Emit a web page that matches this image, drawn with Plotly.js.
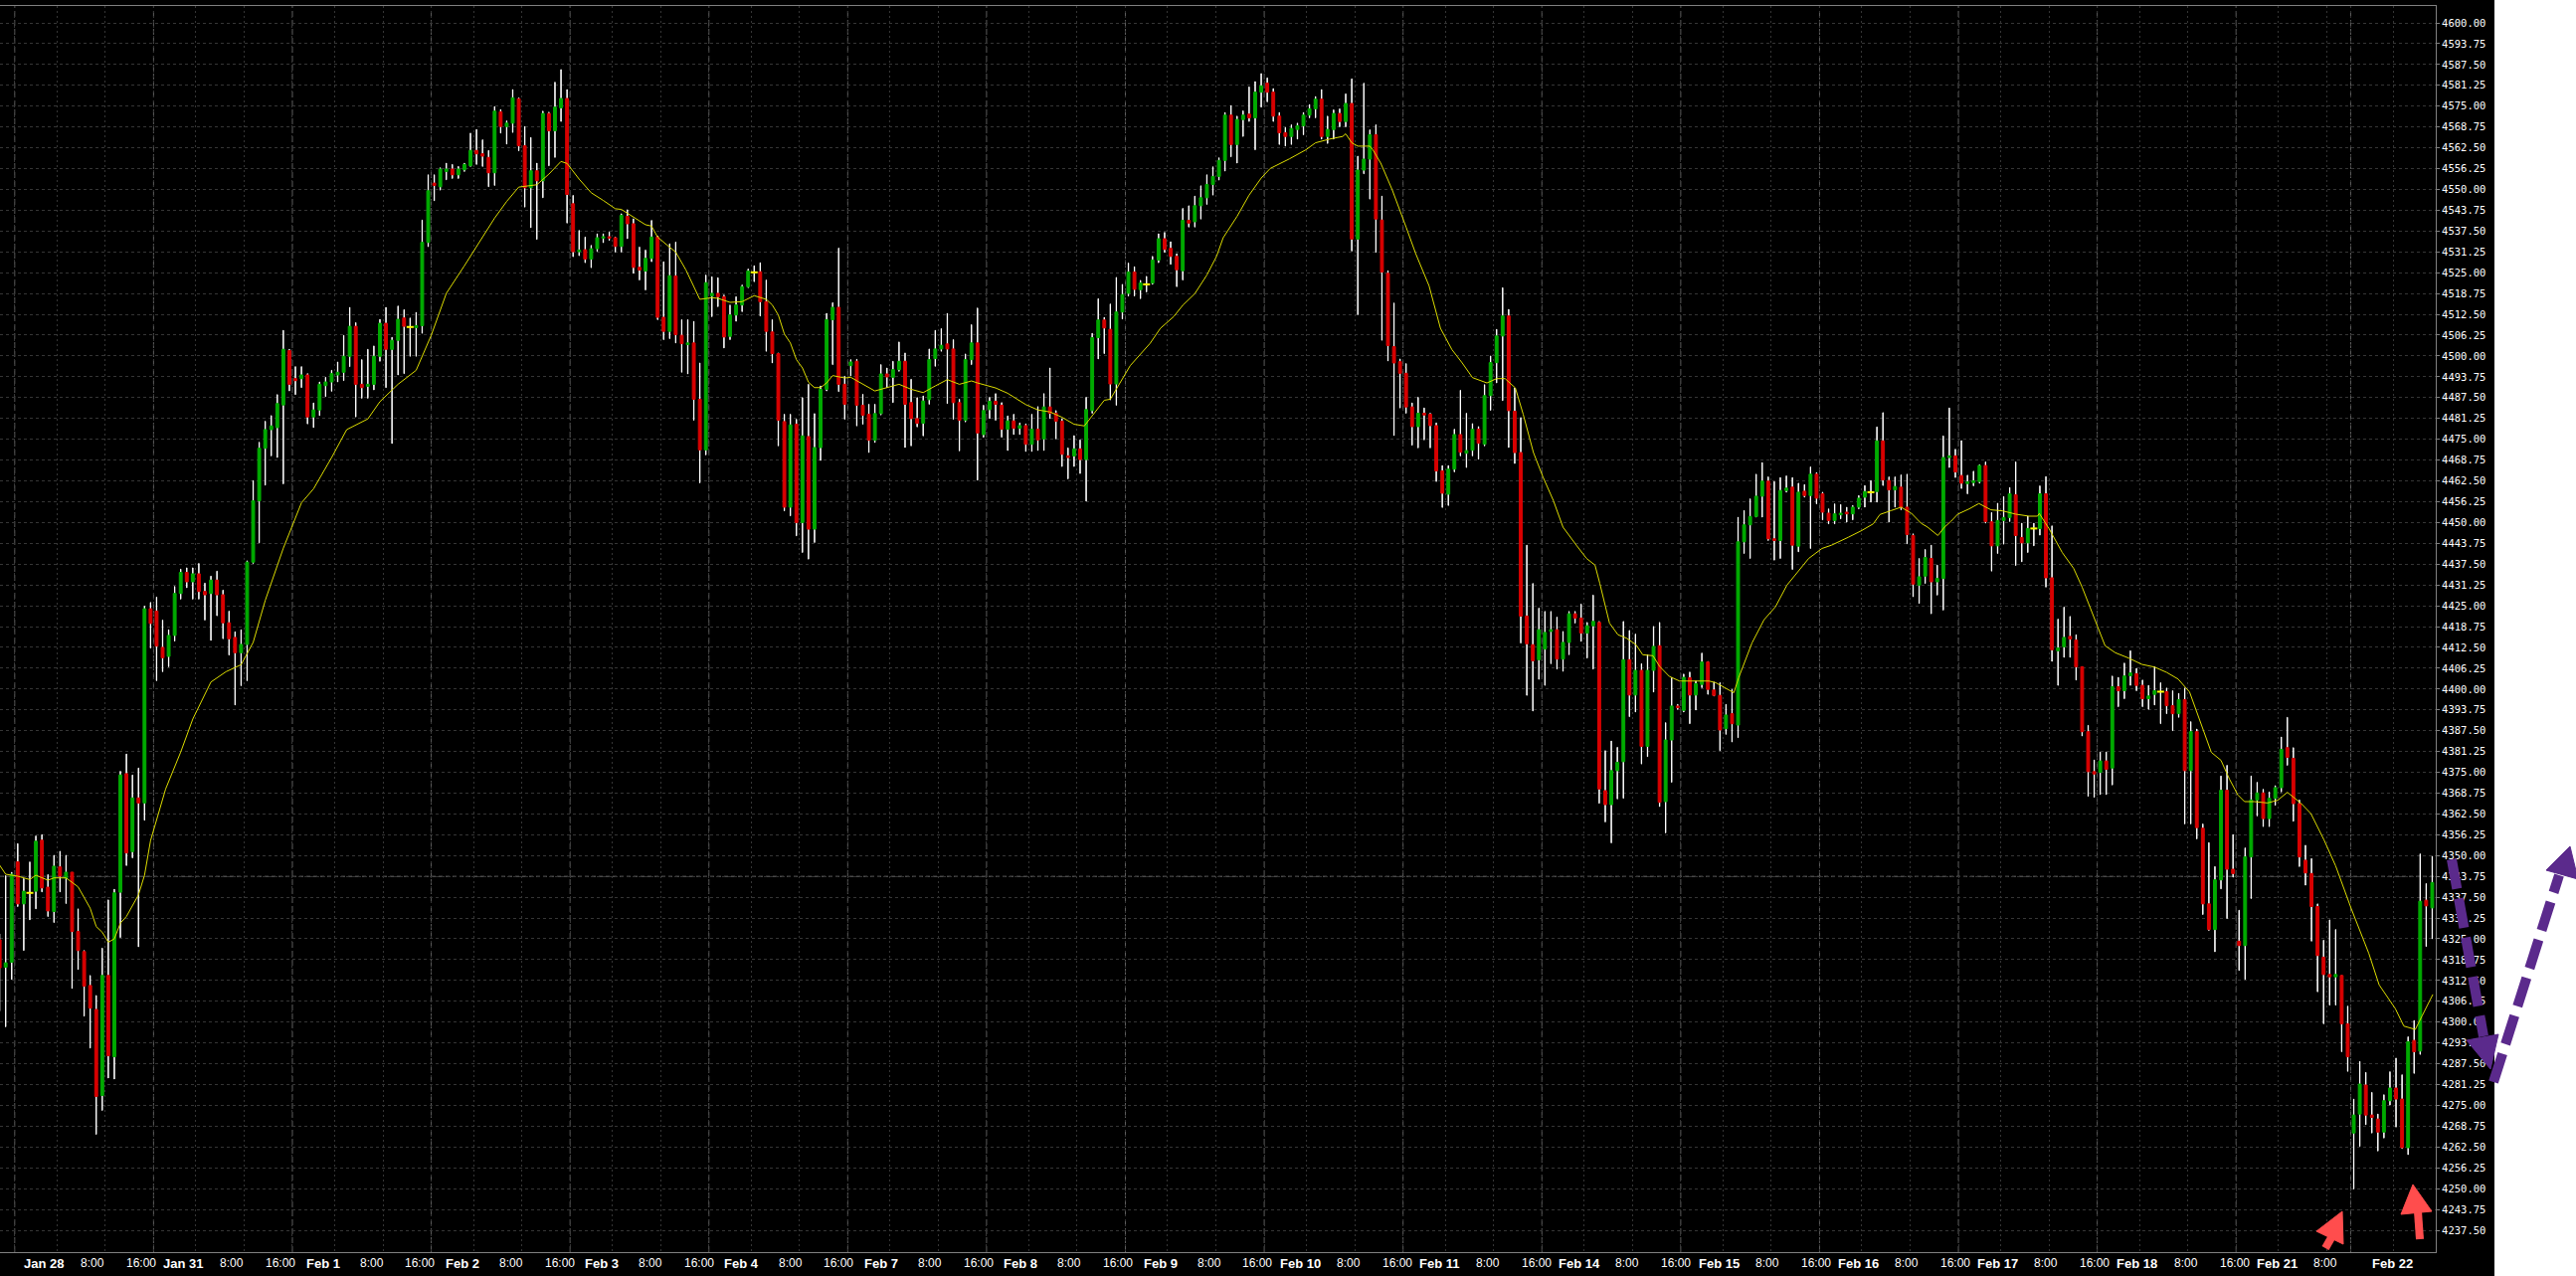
<!DOCTYPE html>
<html><head><meta charset="utf-8">
<script src="https://cdn.plot.ly/plotly-3.0.1.min.js"></script>
<style>
html,body{margin:0;padding:0;}
body{width:2590px;height:1283px;overflow:hidden;background:linear-gradient(to right,#000 0px,#000 2508px,#fff 2508px,#fff 2590px);}
#chart{width:2590px;height:1283px;}
</style></head><body><div id="chart"></div>
<script>
// ---- hourly OHLC, candle index 0..403 ----
const openP = [
4324.7,4316.5,4318.0,4348.1,4335.5,4338.8,4339.3,4354.6,4340.5,4333.2,
4346.6,4343.2,4345.0,4327.2,4321.2,4311.0,4303.8,4278.0,4314.0,4289.6,
4339.0,4374.6,4351.2,4367.3,4365.8,4424.1,4423.4,4412.5,4409.8,4416.1,
4428.7,4435.0,4432.2,4434.6,4429.3,4428.7,4432.7,4428.3,4419.9,4415.5,
4410.9,4413.4,4438.1,4456.5,4472.3,4477.9,4478.5,4485.3,4501.6,4493.2,
4493.2,4494.3,4481.7,4483.8,4491.1,4492.2,4494.3,4495.1,4499.9,4508.9,
4491.5,4490.9,4491.5,4499.9,4509.8,4502.0,4504.7,4511.4,4508.7,4508.5,
4509.1,4534.1,4551.9,4550.8,4555.4,4556.1,4554.4,4555.9,4557.1,4561.7,
4560.7,4559.6,4555.0,4573.3,4568.9,4569.9,4577.2,4563.1,4550.5,4555.6,
4552.6,4572.8,4567.6,4574.5,4577.3,4545.7,4531.3,4531.9,4529.1,4532.2,
4535.4,4535.8,4535.5,4532.9,4541.9,4539.7,4526.6,4525.5,4529.3,4535.7,
4511.6,4507.4,4524.0,4506.2,4503.4,4503.9,4487.0,4471.8,4518.0,4518.8,
4517.8,4505.9,4512.3,4515.3,4520.8,4525.1,4525.3,4516.3,4507.2,4500.7,
4480.3,4454.6,4479.5,4450.0,4475.8,4448.0,4472.5,4490.0,4510.9,4514.6,
4491.5,4497.1,4498.4,4485.2,4482.5,4474.7,4482.7,4494.6,4493.6,4495.9,
4498.4,4486.0,4481.2,4479.8,4486.9,4499.2,4502.1,4503.6,4502.1,4486.0,
4480.7,4498.9,4503.9,4476.4,4483.9,4486.4,4485.2,4478.0,4480.5,4478.3,
4479.1,4473.5,4478.0,4475.1,4484.7,4482.8,4480.4,4470.0,4470.0,4472.1,
4468.9,4483.6,4505.5,4510.8,4508.0,4491.6,4513.2,4518.8,4525.2,4519.9,
4521.5,4521.9,4528.8,4535.2,4532.3,4529.9,4525.6,4540.7,4540.3,4545.1,
4547.5,4551.5,4553.9,4558.7,4572.3,4563.5,4571.0,4572.6,4571.5,4579.2,
4581.9,4579.2,4572.0,4567.0,4565.9,4568.0,4569.1,4572.3,4574.2,4577.1,
4565.9,4568.0,4572.8,4570.4,4575.8,4535.1,4555.8,4559.1,4566.4,4540.8,
4524.8,4502.8,4498.3,4494.8,4484.7,4478.8,4482.8,4482.5,4479.1,4465.5,
4458.5,4466.0,4476.4,4470.8,4471.7,4478.0,4473.5,4488.1,4498.0,4506.0,
4512.0,4483.4,4471.0,4421.9,4413.3,4408.8,4412.0,4417.3,4417.8,4409.0,
4414.0,4422.6,4421.3,4416.8,4419.0,4420.0,4369.5,4365.3,4375.5,4378.2,
4408.8,4398.2,4405.6,4382.8,4405.6,4413.0,4366.2,4384.7,4394.9,4393.6,
4403.4,4398.2,4401.4,4408.1,4399.7,4398.1,4388.1,4392.6,4389.2,4444.2,
4449.3,4451.8,4457.9,4462.4,4445.1,4444.6,4459.6,4460.6,4442.9,4459.4,
4458.1,4464.5,4458.6,4452.8,4450.6,4452.3,4453.1,4452.6,4454.6,4457.6,
4459.1,4459.3,4474.5,4462.6,4459.8,4460.6,4454.6,4446.1,4431.2,4433.9,
4439.2,4432.2,4433.2,4469.5,4470.0,4464.1,4461.7,4462.0,4462.3,4467.1,
4450.2,4443.0,4450.6,4451.5,4458.3,4445.5,4443.9,4448.2,4448.2,4458.6,
4433.4,4411.5,4412.7,4415.8,4414.7,4406.7,4387.2,4375.2,4375.0,4378.4,
4376.3,4400.7,4399.5,4404.0,4404.6,4401.1,4397.1,4398.4,4399.2,4399.2,
4395.0,4392.6,4396.8,4375.5,4387.2,4358.2,4335.5,4327.8,4342.7,4369.6,
4345.9,4324.3,4323.0,4349.6,4366.7,4368.8,4361.1,4367.2,4370.4,4382.4,
4379.2,4365.6,4348.6,4344.6,4334.7,4319.5,4314.3,4313.6,4314.0,4299.5,
4266.7,4272.4,4281.1,4272.1,4270.9,4267.0,4276.4,4280.2,4276.9,4262.3,
4294.5,4291.3,4336.6,4334.3];
const highP = [
4326.5,4344.0,4345.0,4353.6,4343.1,4348.1,4355.9,4356.3,4344.3,4350.1,
4351.3,4350.1,4345.0,4334.0,4321.5,4314.0,4308.0,4322.2,4336.7,4339.9,
4375.3,4380.5,4374.2,4376.3,4424.9,4426.0,4427.6,4420.7,4417.8,4430.8,
4436.0,4436.4,4436.4,4437.7,4431.8,4433.9,4435.4,4429.7,4423.4,4417.2,
4417.8,4438.5,4462.6,4474.1,4480.4,4482.1,4488.4,4507.7,4502.0,4496.8,
4496.8,4494.7,4485.9,4492.2,4493.6,4495.7,4498.2,4506.2,4514.6,4510.0,
4498.9,4502.0,4503.0,4511.0,4514.6,4505.6,4515.0,4513.9,4511.4,4513.1,
4540.8,4554.4,4554.4,4556.5,4557.9,4557.5,4556.9,4557.9,4566.9,4568.0,
4564.9,4561.7,4574.9,4574.0,4570.6,4580.0,4577.5,4568.9,4565.6,4557.9,
4573.5,4573.2,4582.2,4586.0,4580.0,4548.2,4537.7,4535.7,4533.2,4536.7,
4536.7,4537.2,4535.7,4542.7,4543.9,4541.2,4532.7,4531.8,4540.7,4536.0,
4528.3,4533.7,4534.2,4510.9,4510.9,4510.4,4497.9,4524.3,4523.8,4523.5,
4518.3,4515.3,4517.8,4521.3,4526.1,4527.1,4528.0,4522.8,4510.9,4500.9,
4482.5,4482.5,4481.0,4487.5,4491.5,4482.7,4491.0,4512.8,4516.0,4532.4,
4493.9,4498.9,4499.0,4488.5,4485.5,4485.5,4497.4,4496.4,4498.4,4504.2,
4500.9,4493.0,4487.5,4488.0,4502.1,4507.7,4508.2,4512.8,4504.9,4487.0,
4500.6,4509.4,4514.4,4485.2,4487.6,4488.7,4486.0,4482.0,4482.5,4479.9,
4479.6,4482.5,4484.8,4488.7,4496.4,4483.6,4481.2,4472.4,4476.1,4474.8,
4487.6,4506.8,4517.2,4511.6,4515.6,4523.6,4521.5,4527.9,4526.8,4522.7,
4523.9,4529.9,4536.7,4537.1,4534.3,4530.7,4544.3,4545.1,4548.0,4551.1,
4554.4,4556.8,4559.5,4573.1,4575.2,4572.0,4573.6,4580.8,4582.4,4584.8,
4583.5,4580.3,4573.1,4568.6,4569.4,4569.9,4573.1,4575.5,4577.9,4580.0,
4572.0,4573.9,4574.2,4578.7,4583.2,4560.0,4581.9,4567.9,4569.4,4548.0,
4525.6,4515.9,4499.1,4497.7,4485.9,4487.6,4484.4,4482.8,4479.9,4467.1,
4467.1,4478.0,4489.7,4482.8,4479.7,4478.8,4491.4,4500.0,4508.0,4520.5,
4514.0,4490.4,4481.5,4443.2,4431.7,4424.3,4423.3,4423.3,4421.6,4417.3,
4423.3,4423.3,4425.5,4420.0,4428.2,4420.3,4381.5,4384.4,4382.5,4420.3,
4417.6,4416.5,4407.6,4410.3,4418.8,4420.0,4389.9,4403.4,4395.4,4404.5,
4405.1,4402.4,4410.8,4408.3,4402.1,4401.9,4395.4,4399.9,4451.6,4453.6,
4457.1,4464.5,4468.0,4463.7,4462.3,4463.5,4464.0,4463.5,4461.8,4461.4,
4466.7,4465.0,4459.1,4454.1,4455.6,4455.4,4454.6,4455.1,4458.1,4461.1,
4462.6,4478.7,4483.0,4463.7,4463.7,4464.3,4464.5,4446.6,4439.2,4441.9,
4443.2,4437.2,4476.0,4484.4,4472.0,4474.6,4464.2,4465.4,4467.4,4468.2,
4453.0,4455.8,4457.8,4460.5,4468.2,4449.8,4451.9,4449.8,4461.0,4463.8,
4449.0,4421.0,4424.6,4421.8,4416.3,4406.7,4389.1,4378.7,4381.1,4381.1,
4403.9,4403.5,4407.8,4411.5,4406.2,4402.7,4401.1,4406.7,4401.9,4400.3,
4399.5,4398.7,4400.3,4390.2,4388.0,4359.5,4353.9,4346.7,4373.9,4377.1,
4356.3,4333.6,4352.3,4373.9,4372.0,4369.9,4369.1,4371.0,4385.6,4391.5,
4382.4,4366.7,4353.1,4349.1,4335.5,4324.6,4330.7,4327.8,4314.0,4304.8,
4276.9,4288.2,4284.9,4278.9,4272.4,4278.2,4285.1,4289.2,4284.2,4295.6,
4300.5,4350.5,4341.6,4349.8];
const lowP = [
4303.3,4298.6,4312.8,4334.7,4321.5,4330.7,4334.0,4339.1,4331.7,4329.9,
4339.1,4335.6,4310.1,4315.8,4301.8,4292.2,4266.3,4273.5,4283.2,4282.9,
4325.4,4347.0,4349.3,4322.6,4360.6,4412.3,4402.5,4405.2,4406.7,4414.4,
4427.0,4430.4,4427.0,4427.0,4420.7,4414.6,4422.0,4415.1,4410.2,4395.2,
4401.0,4402.5,4437.7,4443.9,4461.2,4470.0,4469.5,4461.6,4489.5,4488.4,
4490.5,4479.6,4478.5,4482.1,4487.8,4489.4,4492.2,4492.6,4496.8,4481.7,
4487.3,4487.3,4489.8,4498.4,4490.5,4473.7,4494.3,4494.7,4499.9,4499.9,
4506.8,4532.8,4546.6,4549.8,4552.9,4553.3,4553.3,4555.4,4556.9,4557.5,
4556.9,4550.8,4551.2,4566.9,4563.6,4567.1,4561.6,4544.7,4538.5,4535.0,
4547.5,4557.1,4559.6,4570.4,4539.9,4529.8,4530.1,4528.0,4526.5,4531.4,
4534.0,4534.7,4531.2,4531.2,4535.2,4524.8,4522.8,4519.8,4528.3,4510.9,
4504.9,4505.2,4503.9,4495.1,4494.6,4480.7,4461.9,4470.3,4511.8,4514.8,
4502.4,4504.9,4510.4,4513.3,4520.5,4522.3,4512.0,4501.4,4497.9,4473.0,
4453.5,4452.0,4446.0,4441.0,4439.0,4444.0,4468.6,4489.5,4497.4,4489.3,
4481.0,4494.0,4479.0,4479.5,4471.0,4474.0,4482.3,4490.5,4486.0,4495.4,
4472.5,4473.0,4478.7,4476.0,4485.5,4496.9,4501.4,4485.7,4481.0,4471.5,
4480.2,4497.4,4462.7,4475.6,4481.2,4480.7,4475.6,4471.6,4476.4,4476.4,
4471.3,4471.3,4471.6,4471.6,4481.2,4475.1,4466.8,4463.1,4466.8,4464.7,
4456.4,4482.8,4499.1,4500.7,4486.8,4485.2,4511.1,4518.0,4518.0,4517.2,
4519.2,4521.5,4528.0,4531.1,4527.5,4520.8,4522.8,4538.7,4538.7,4541.1,
4545.5,4548.3,4552.8,4555.5,4559.8,4557.9,4565.9,4570.4,4561.9,4574.7,
4576.3,4570.4,4563.5,4563.0,4563.5,4565.1,4566.4,4571.5,4571.5,4565.1,
4563.8,4565.1,4568.8,4568.8,4531.5,4512.4,4554.7,4547.1,4531.1,4504.7,
4498.5,4476.1,4484.4,4482.8,4473.2,4472.4,4474.8,4472.4,4462.3,4454.5,
4455.1,4465.2,4470.0,4466.5,4470.0,4469.0,4473.0,4483.7,4491.9,4486.6,
4472.5,4467.7,4413.8,4398.1,4393.4,4402.9,4401.1,4407.6,4406.0,4405.3,
4410.3,4419.8,4414.3,4409.3,4406.0,4365.7,4360.1,4353.8,4367.0,4367.2,
4391.7,4393.1,4377.5,4379.7,4399.1,4364.7,4356.8,4372.0,4393.9,4393.1,
4389.6,4393.7,4400.4,4398.4,4397.9,4381.5,4386.4,4384.1,4385.4,4440.7,
4439.2,4451.6,4451.6,4444.6,4438.7,4439.2,4459.1,4435.9,4441.2,4457.6,
4442.2,4455.6,4450.8,4449.6,4449.6,4451.1,4450.1,4450.8,4454.1,4454.6,
4456.1,4456.1,4461.1,4450.1,4454.6,4453.8,4443.6,4427.7,4425.7,4431.7,
4422.6,4428.2,4423.7,4466.5,4463.5,4460.2,4458.6,4461.0,4461.8,4449.8,
4435.4,4440.7,4443.5,4450.3,4437.1,4438.2,4441.0,4443.0,4446.2,4430.6,
4408.3,4401.1,4409.5,4409.5,4402.7,4385.9,4367.8,4367.5,4368.3,4368.3,
4371.2,4394.7,4397.1,4401.1,4399.5,4394.7,4393.9,4395.2,4389.6,4392.6,
4387.5,4391.5,4359.5,4359.5,4355.0,4332.3,4327.5,4321.1,4340.0,4331.1,
4343.5,4315.5,4312.8,4337.1,4361.9,4358.7,4358.7,4365.1,4369.1,4377.1,
4360.3,4346.7,4341.1,4324.3,4309.1,4299.5,4305.1,4305.1,4291.1,4285.2,
4249.9,4262.7,4269.2,4266.7,4261.3,4265.2,4275.1,4268.5,4262.0,4260.2,
4284.6,4290.3,4322.7,4325.0];
const closeP = [
4316.3,4317.8,4344.4,4335.5,4339.3,4338.8,4354.3,4340.3,4333.4,4346.8,
4343.8,4345.0,4327.2,4321.5,4310.8,4304.2,4277.7,4314.0,4289.9,4338.8,
4374.2,4350.8,4367.3,4365.8,4424.1,4419.7,4412.9,4409.4,4416.1,4428.7,
4435.0,4432.2,4434.6,4429.3,4428.3,4432.7,4428.3,4419.9,4415.1,4410.9,
4413.4,4438.1,4456.5,4472.3,4477.9,4479.0,4485.7,4502.0,4491.5,4492.6,
4494.3,4481.7,4483.8,4491.5,4492.2,4494.7,4495.1,4499.9,4508.9,4491.5,
4490.5,4491.5,4499.9,4509.8,4502.0,4504.7,4511.0,4508.9,4508.7,4509.1,
4534.1,4549.6,4551.2,4556.1,4556.1,4554.4,4556.1,4557.5,4561.7,4560.7,
4560.0,4555.0,4573.5,4568.9,4569.9,4577.5,4563.1,4550.5,4555.6,4552.6,
4572.8,4567.6,4574.7,4577.3,4548.5,4531.3,4531.8,4529.1,4532.2,4535.5,
4535.8,4535.4,4532.9,4542.2,4539.7,4526.6,4525.8,4529.3,4535.7,4511.6,
4507.4,4524.1,4506.4,4503.7,4503.9,4487.0,4471.8,4522.0,4518.8,4517.8,
4505.7,4512.3,4515.3,4520.8,4525.5,4525.1,4516.3,4507.4,4500.7,4480.7,
4454.6,4479.3,4450.0,4476.0,4448.0,4472.5,4490.0,4510.9,4514.6,4491.5,
4485.5,4498.2,4485.2,4482.2,4474.7,4482.7,4494.6,4493.7,4495.9,4498.4,
4485.5,4481.2,4479.8,4486.5,4498.9,4502.1,4503.2,4502.1,4486.0,4480.7,
4498.9,4503.9,4476.9,4483.6,4486.4,4485.5,4478.0,4480.5,4478.3,4479.1,
4473.5,4478.0,4474.8,4484.7,4482.8,4480.4,4470.5,4469.5,4472.1,4468.9,
4483.9,4505.5,4510.8,4508.4,4491.6,4513.2,4518.4,4525.2,4520.0,4521.9,
4521.5,4528.8,4535.2,4532.0,4529.9,4525.9,4540.7,4539.9,4545.1,4547.5,
4551.5,4553.9,4558.7,4572.3,4563.5,4571.0,4572.3,4571.5,4579.2,4581.1,
4579.2,4572.0,4567.0,4565.9,4568.3,4569.1,4572.3,4574.2,4577.1,4565.9,
4568.0,4572.8,4570.4,4575.8,4535.1,4555.8,4559.1,4566.4,4541.1,4525.2,
4503.1,4497.9,4494.8,4484.7,4478.8,4482.8,4482.3,4479.1,4465.5,4458.8,
4466.0,4476.4,4471.1,4471.6,4478.0,4473.8,4488.1,4498.0,4506.0,4512.0,
4483.6,4471.0,4421.9,4413.6,4408.5,4417.8,4417.0,4417.8,4409.0,4414.0,
4422.6,4421.3,4416.8,4419.0,4420.3,4370.0,4365.3,4375.5,4378.0,4408.8,
4398.2,4405.6,4382.8,4405.6,4412.8,4366.0,4384.7,4394.9,4394.4,4403.5,
4398.2,4401.6,4408.1,4399.9,4398.1,4387.7,4392.2,4389.6,4444.2,4449.3,
4451.8,4457.9,4462.4,4445.1,4444.6,4459.6,4460.3,4443.2,4459.1,4458.1,
4464.5,4457.3,4453.1,4450.6,4452.6,4452.8,4452.6,4454.6,4457.3,4459.3,
4459.1,4474.5,4462.8,4459.8,4460.8,4454.6,4446.4,4431.5,4433.7,4439.5,
4432.2,4433.2,4469.5,4470.0,4465.2,4461.8,4462.2,4462.5,4467.1,4450.3,
4443.0,4450.6,4451.5,4458.6,4446.1,4443.9,4448.2,4448.2,4458.6,4433.4,
4411.8,4412.3,4415.5,4415.0,4406.7,4387.2,4375.2,4374.5,4378.4,4375.9,
4400.7,4399.5,4403.9,4404.8,4401.1,4397.1,4397.9,4399.5,4399.2,4395.0,
4392.6,4396.8,4375.5,4387.2,4358.4,4335.5,4327.8,4342.7,4369.6,4345.9,
4344.6,4323.0,4349.6,4366.7,4368.8,4361.1,4367.2,4370.4,4381.9,4379.5,
4365.6,4349.6,4344.8,4334.7,4320.0,4314.3,4313.6,4314.3,4299.5,4289.6,
4272.1,4281.4,4272.1,4271.4,4267.0,4276.4,4280.2,4276.9,4262.3,4294.1,
4291.1,4336.3,4334.9,4341.9];

// ---- moving average at these candle positions ----
const maIndex = [0,1,3,5,6,8,9,11,13,15,16,17,18,19,20,21,23,24,25,27.5,30,32,35,37.5,40,42,44,47,50,52,55,57.5,61,63,66,69,71.5,74,77,80,82,84,86,89,91,93,94,96,98,100,102,103,105,107,108,109,110.5,112,113.7,115,116,118,119,121,123,125,127,128,129,130,131,132,133,134,135,136,137,138,140,141,143,145,147,149,151,153,155,157,159,161,162,165,167,170,172,174,176,178,179.7,181.3,183,184,185.7,187.3,190.6,192.3,194.5,196,198,200,201.6,202.7,205,207,209,210.5,213.7,216.4,218,220.3,222.5,223,224,225,227,227.5,228.8,230.7,233,234.6,236.8,238.7,240.6,242.3,244,246.4,248,249.4,251.1,252.4,254.1,255.7,257.4,259,261.2,262.9,264.3,265.1,266.7,268.1,269.5,271.1,272.2,273.9,275,276.6,278.3,281,283.2,284.3,285.9,287.3,288.1,290.3,292.3,294.2,296.1,297.5,299.7,301.9,303.5,306.3,308.5,310.4,311.5,313.4,315,316.7,318.3,319.4,321.1,322.2,323.3,324.4,326.3,327.9,329.9,331.8,334,336.2,337.6,337.9,339.5,341.7,343.6,345,347.2,348.8,350.5,352.7,354.9,357,359,360.9,362.8,364.7,366.4,368,369.4,370.8,371.9,373.5,375.7,377.4,379,381.2,382.9,385.1,387,389.6,392.5,394.2,395.3,396.9,398.3,400.2,401.3,403.1];
const maValue = [4347.1,4344.4,4343.8,4342.8,4344.1,4342.6,4343.3,4343.3,4340.6,4334.2,4328.7,4327.0,4324.0,4325.0,4329.7,4331.7,4338.2,4344.1,4354.5,4370.0,4381.1,4391.0,4402.1,4405.2,4407.3,4414.0,4426.6,4442.3,4455.9,4460.1,4469.5,4477.9,4481.1,4486.3,4491.5,4495.7,4506.2,4518.8,4527.1,4535.5,4541.4,4546.4,4550.7,4551.4,4554.6,4558.4,4557.8,4553.1,4549.0,4546.7,4544.2,4544.0,4541.7,4539.4,4539.0,4535.7,4533.4,4531.2,4525.8,4520.8,4517.0,4517.5,4517.3,4516.1,4516.3,4518.1,4517.0,4515.3,4512.3,4506.6,4503.9,4498.9,4496.4,4492.1,4490.5,4490.5,4491.9,4494.1,4493.4,4493.6,4491.6,4489.5,4490.5,4491.5,4490.0,4489.0,4491.0,4492.9,4491.5,4492.5,4491.9,4490.4,4488.8,4485.4,4483.8,4483.2,4481.6,4479.5,4479.0,4482.7,4486.7,4487.0,4492.3,4497.1,4503.8,4508.3,4511.8,4515.2,4518.7,4524.3,4529.9,4535.5,4541.9,4548.3,4553.4,4556.3,4559.2,4561.9,4564.0,4565.1,4565.9,4566.7,4564.0,4563.0,4563.0,4561.9,4557.9,4549.9,4538.7,4530.7,4521.1,4508.3,4501.9,4497.9,4493.5,4491.9,4493.2,4493.2,4490.4,4482.5,4471.0,4463.6,4456.6,4448.6,4443.2,4439.2,4437.2,4431.7,4419.8,4416.3,4415.3,4413.3,4410.3,4410.0,4406.8,4403.8,4402.4,4402.4,4402.4,4401.9,4400.4,4398.9,4403.4,4413.8,4420.8,4424.7,4431.2,4434.2,4439.2,4442.2,4443.2,4445.6,4447.6,4449.6,4452.4,4453.6,4454.6,4452.8,4449.8,4448.6,4446.1,4448.6,4450.4,4452.5,4454.1,4455.7,4453.8,4453.5,4452.5,4451.9,4451.9,4452.7,4448.2,4441.0,4436.2,4430.6,4420.2,4413.0,4410.9,4409.3,4407.4,4406.6,4405.0,4403.0,4399.1,4389.8,4381.0,4378.6,4373.0,4368.2,4366.2,4366.2,4365.8,4366.6,4369.0,4365.8,4362.6,4354.6,4346.9,4334.0,4320.6,4311.2,4308.3,4304.0,4298.8,4297.8,4301.8,4308.3];

// ---- time axis: first candle of each labelled hour, and its label ----
const xTickIndex = [3,10,18,26,33,41,49,56,64,72,79,87,95,102,110,118,125,133,141,148,156,164,171,179,187,194,202,210,217,225,233,240,248,256,263,271,279,286,294,302,309,317,325,332,340,348,355,363,371,378,386,390,397];
const xTickText = ['', 'Jan 28','8:00','16:00','Jan 31','8:00','16:00','Feb 1','8:00','16:00','Feb 2','8:00','16:00','Feb 3','8:00','16:00','Feb 4','8:00','16:00','Feb 7','8:00','16:00','Feb 8','8:00','16:00','Feb 9','8:00','16:00','Feb 10','8:00','16:00','Feb 11','8:00','16:00','Feb 14','8:00','16:00','Feb 15','8:00','16:00','Feb 16','8:00','16:00','Feb 17','8:00','16:00','Feb 18','8:00','16:00','Feb 21','8:00','','Feb 22'];
const markerLevel = 4343.75;

// ---- geometry ----
const W = 2590, H = 1283, ML = 0, MR = 141, MT = 6, MB = 24;
const PW = W - ML - MR, PH = H - MT - MB;
const STEP = 6.069, X0 = -0.36;              // px per candle, px of candle 0
const px = x => (x - ML) / PW;
const py = y => (H - MB - y) / PH;
const poly = pts => 'M' + pts.map(p => px(p[0]) + ',' + py(p[1])).join(' L') + ' Z';

const idx = openP.map((_, i) => i);
const bodyHi = openP.map((o, i) => Math.max(o, closeP[i]));
const bodyLo = openP.map((o, i) => Math.min(o, closeP[i]));
const wickLen = highP.map((h, i) => h - lowP[i]);
const dojiX = [], dojiY = [];
openP.forEach((o, i) => { if (o === closeP[i]) { dojiX.push(i); dojiY.push(o); } });

const GREEN = '#00aa00', RED = '#d80000';

const traces = [
  { type: 'bar', x: idx, base: lowP, y: wickLen, width: 0.05,
    marker: { color: '#ffffff', line: { width: 1, color: '#ffffff' } }, hoverinfo: 'skip' },
  { type: 'candlestick', x: idx, open: openP, high: bodyHi, low: bodyLo, close: closeP,
    increasing: { line: { color: GREEN, width: 1 }, fillcolor: GREEN },
    decreasing: { line: { color: RED, width: 1 }, fillcolor: RED },
    whiskerwidth: 0, hoverinfo: 'skip' },
  { type: 'scatter', mode: 'markers', x: dojiX, y: dojiY,
    marker: { symbol: 'line-ew', size: 5, line: { color: '#ffff00', width: 2 } }, hoverinfo: 'skip' },
  { type: 'scatter', mode: 'lines', x: maIndex, y: maValue,
    line: { color: '#dcdc00', width: 1 }, hoverinfo: 'skip' }
];

const shapes = [];
// session (16:00) lines are drawn more visibly
xTickIndex.forEach((k, i) => {
  if (xTickText[i] === '16:00' || xTickText[i] === '') {
    shapes.push({ type: 'line', xref: 'x', yref: 'paper', x0: k - 0.5, x1: k - 0.5, y0: 0, y1: 1,
      layer: 'between', line: { color: '#5c5c5c', width: 1, dash: '6px,3px' } });
  }
});
shapes.push({ type: 'line', xref: 'paper', yref: 'y', x0: 0, x1: 1, y0: markerLevel, y1: markerLevel,
  layer: 'between', line: { color: '#6a6a6a', width: 1, dash: '4px,3px' } });

// hand-drawn arrows
const PURPLE = '#5b2a8c', SALMON = '#ff4d4d';
shapes.push({ type: 'line', xref: 'paper', yref: 'paper', x0: px(2465), y0: py(864), x1: px(2497), y1: py(1042),
  layer: 'above', line: { color: PURPLE, width: 10, dash: '30px,10px' } });
shapes.push({ type: 'path', xref: 'paper', yref: 'paper', layer: 'above', path: poly([[2504, 1075], [2480, 1046], [2512, 1040]]),
  fillcolor: PURPLE, line: { color: PURPLE, width: 1 } });
shapes.push({ type: 'line', xref: 'paper', yref: 'paper', x0: px(2507), y0: py(1088), x1: px(2573), y1: py(880),
  layer: 'above', line: { color: PURPLE, width: 10, dash: '30px,10px' } });
shapes.push({ type: 'path', xref: 'paper', yref: 'paper', layer: 'above', path: poly([[2584, 851], [2560, 875], [2592, 884]]),
  fillcolor: PURPLE, line: { color: PURPLE, width: 1 } });
shapes.push({ type: 'line', xref: 'paper', yref: 'paper', x0: px(2338), y0: py(1255), x1: px(2346), y1: py(1241),
  layer: 'above', line: { color: SALMON, width: 8 } });
shapes.push({ type: 'path', xref: 'paper', yref: 'paper', layer: 'above', path: poly([[2355, 1218], [2329, 1238], [2356, 1251]]),
  fillcolor: SALMON, line: { color: SALMON, width: 1 } });
shapes.push({ type: 'line', xref: 'paper', yref: 'paper', x0: px(2433), y0: py(1246), x1: px(2431), y1: py(1218),
  layer: 'above', line: { color: SALMON, width: 8 } });
shapes.push({ type: 'path', xref: 'paper', yref: 'paper', layer: 'above', path: poly([[2426, 1191], [2414, 1221], [2445, 1218]]),
  fillcolor: SALMON, line: { color: SALMON, width: 1 } });

// time labels: the source chart prints them slightly left of their grid line (13px at the left edge, ~1px at the right)
const annotations = xTickText.map((t, i) => {
  if (t === '') return null;
  const gx = STEP * (xTickIndex[i] - 0.5) + X0;
  const lx = gx - 13.5 + 0.00529 * gx;
  const isDay = t.indexOf(':') < 0;
  return {
    xref: 'paper', yref: 'paper', x: px(lx), y: py(1270), xanchor: 'center', yanchor: 'middle',
    text: isDay ? '<b>' + t + '</b>' : t, showarrow: false,
    font: { family: 'Liberation Sans, Arial, sans-serif', size: isDay ? 13 : 12, color: '#ffffff' }
  };
}).filter(a => a !== null);

const yTicks = [];
for (let v = 4237.5; v <= 4600.001; v += 6.25) yTicks.push(v);

const layout = {
  width: W, height: H,
  margin: { l: ML, r: MR, t: MT, b: MB, pad: 0 },
  paper_bgcolor: 'rgba(0,0,0,0)', plot_bgcolor: '#000000',
  showlegend: false, hovermode: false, boxgap: 0.32, bargap: 0, bargroupgap: 0,
  xaxis: {
    range: [(ML - X0) / STEP, (PW - X0) / STEP],
    tickmode: 'array', tickvals: xTickIndex.map(k => k - 0.5), showticklabels: false,
    ticks: '', showgrid: true, gridcolor: '#353535', griddash: '2px,3px', gridwidth: 1,
    showline: true, mirror: true, linecolor: '#808080', linewidth: 1, zeroline: false,
    rangeslider: { visible: false }, fixedrange: true
  },
  yaxis: {
    side: 'right', range: [4230.94, 4605.08],
    tickmode: 'array', tickvals: yTicks, ticktext: yTicks.map(v => v.toFixed(2)),
    ticks: 'outside', ticklen: 3, tickcolor: '#808080',
    showgrid: true, gridcolor: '#353535', griddash: '3px,3px', gridwidth: 1,
    showline: true, mirror: true, linecolor: '#808080', linewidth: 1, zeroline: false,
    tickfont: { family: 'DejaVu Sans Mono, monospace', size: 10.5, color: '#ffffff' },
    fixedrange: true
  },
  shapes: shapes,
  annotations: annotations
};

Plotly.newPlot('chart', traces, layout, { displayModeBar: false, staticPlot: true });
</script>
</body></html>
